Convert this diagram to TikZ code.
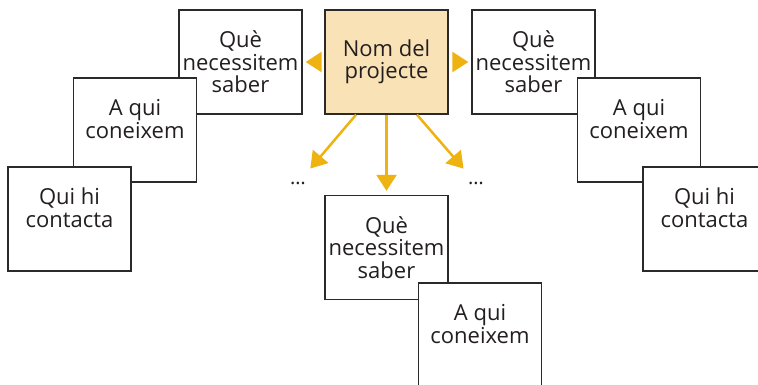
\documentclass[tikz,border=0pt]{standalone}
\usepackage{fontspec}
\setmainfont{Open Sans}
\usetikzlibrary{positioning,arrows.meta}
\definecolor{cardline}{RGB}{43,42,41}
\definecolor{inkgray}{RGB}{35,31,32}
\definecolor{projfill}{RGB}{249,226,181}
\definecolor{arrowgold}{RGB}{238,178,17}

\begin{document}
\begin{tikzpicture}[x=1pt,y=1pt,on grid]
            \tikzstyle{card}=[draw=cardline, line width=1.3pt, fill=white, minimum width=123pt, minimum height=104pt,
                              inner sep=0pt, align=center, text=inkgray, font=\fontsize{22}{22.5}\selectfont]
            \tikzstyle{more}=[inner sep=0pt, text=inkgray, font=\fontsize{20}{22}\selectfont]
            \tikzstyle{flow}=[color=arrowgold, line width=2.5pt, -{Triangle[length=16pt,width=20pt]}]
            \clip (-386.5,62) rectangle (371.5,-322);
            \node[card, fill=projfill] (nom)                                            {Nom del\\projecte};
            \node[card]                (queL)  [left = 146 of nom]                      {Què\\necessitem\\saber};
            \node[card]                (aquiL) [below left = 68 and 105.5 of queL]      {A qui\\coneixem\\~};
            \node[card]                (quiL)  [below left = 89 and 65.5 of aquiL]      {Qui hi\\contacta\\~};
            \node[card]                (queR)  [right = 147 of nom]                     {Què\\necessitem\\saber};
            \node[card]                (aquiR) [below right = 68 and 105.5 of queR]     {A qui\\coneixem\\~};
            \node[card]                (quiR)  [below right = 89 and 65.5 of aquiR]     {Qui hi\\contacta\\~};
            \node[card]                (queB)  [below = 185.5 of nom]                   {Què\\necessitem\\saber};
            \node[card]                (aquiB) [below right = 87.5 and 93.5 of queB]    {A qui\\coneixem\\~};
            \node[more]                (moreL) [below left = 121 and 88.5 of nom]       {\ldots};
            \node[more]                (moreR) [below right = 121 and 89.5 of nom]      {\ldots};

            \draw[flow, shorten <=4pt, shorten >=3pt] (nom)     -- (queL);
            \draw[flow, shorten <=4pt, shorten >=3pt] (nom)     -- (queR);
            \draw[flow, shorten >=4pt]                (nom)     -- (queB);
            \draw[flow, shorten >=17pt]               (nom.240) -- (moreL);
            \draw[flow, shorten >=17pt]               (nom.300) -- (moreR);
        \end{tikzpicture}
\end{document}
